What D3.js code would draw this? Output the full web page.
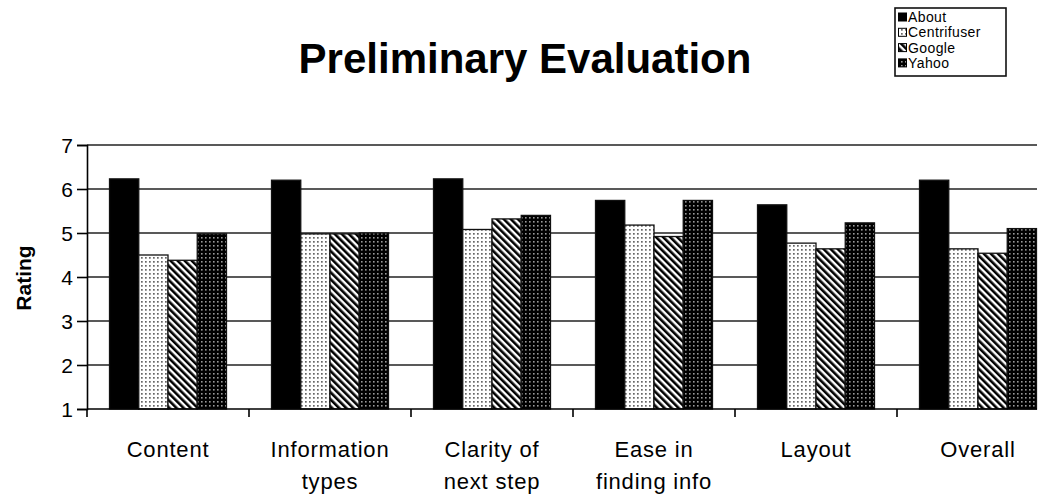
<!DOCTYPE html>
<html><head><meta charset="utf-8">
<script src="https://cdn.jsdelivr.net/npm/d3@7"></script>
<style>
html,body{margin:0;padding:0;background:#fff;}
svg{display:block;font-family:"Liberation Sans",Arial,sans-serif;}
</style></head>
<body><svg id="c" width="1050" height="497"></svg>
<script>
const categories = ["Content","Information types","Clarity of next step","Ease in finding info","Layout","Overall"];
const categoryLines = [["Content"],["Information","types"],["Clarity of","next step"],["Ease in","finding info"],["Layout"],["Overall"]];
const seriesNames = ["About","Centrifuser","Google","Yahoo"];
const about       = [6.23, 6.20, 6.23, 5.74, 5.64, 6.20];
const centrifuser = [4.50, 4.98, 5.08, 5.18, 4.77, 4.64];
const google      = [4.38, 4.98, 5.32, 4.92, 4.64, 4.54];
const yahoo       = [4.98, 5.00, 5.40, 5.74, 5.23, 5.10];
const yTicks = [1,2,3,4,5,6,7];
const seriesValues = [about, centrifuser, google, yahoo];

const svg = d3.select("#c");
const defs = svg.append("defs");
let p = defs.append("pattern").attr("id","pC").attr("patternUnits","userSpaceOnUse").attr("width",4).attr("height",4);
p.append("rect").attr("width",4).attr("height",4).attr("fill","#fff");
p.append("rect").attr("x",1).attr("y",1).attr("width",1.7).attr("height",1.7).attr("fill","#666");
p = defs.append("pattern").attr("id","pG").attr("patternUnits","userSpaceOnUse").attr("width",5).attr("height",5).attr("patternTransform","rotate(-45)");
p.append("rect").attr("width",5).attr("height",5).attr("fill","#fff");
p.append("rect").attr("width",2.6).attr("height",5).attr("fill","#000");
p = defs.append("pattern").attr("id","pY").attr("patternUnits","userSpaceOnUse").attr("width",4).attr("height",4);
p.append("rect").attr("width",4).attr("height",4).attr("fill","#000");
p.append("rect").attr("x",1).attr("y",1).attr("width",1.6).attr("height",1.6).attr("fill","#999");
const fills = ["#000","url(#pC)","url(#pG)","url(#pY)"];

const mLeft = 87, mTop = 145, mBottom = 409, mRight = 1059, lineEnd = 1037;
const y = d3.scaleLinear().domain([1,7]).range([mBottom, mTop]);
const x0 = d3.scaleBand().domain(categories).range([mLeft, mRight]).paddingInner(0.278).paddingOuter(0.139);
const x1 = d3.scaleBand().domain(seriesNames).range([0, x0.bandwidth()]).padding(0);

svg.append("g").selectAll("line").data(yTicks.slice(1)).join("line")
  .attr("x1", mLeft).attr("x2", lineEnd).attr("y1", d=>y(d)).attr("y2", d=>y(d))
  .attr("stroke","#222").attr("stroke-width",1.6);

const g = svg.append("g");
categories.forEach((cat, ci) => {
  seriesNames.forEach((s, si) => {
    const v = seriesValues[si][ci];
    g.append("rect")
      .attr("x", x0(cat) + x1(s)).attr("y", y(v))
      .attr("width", x1.bandwidth()).attr("height", y(1) - y(v))
      .attr("fill", fills[si]).attr("stroke","#111").attr("stroke-width",1.3);
  });
});

const ya = svg.append("g").attr("transform",`translate(${mLeft},0)`)
  .call(d3.axisLeft(y).tickValues(yTicks).tickSize(10).tickPadding(4).tickFormat(d3.format("d")));
ya.select(".domain").attr("stroke","#000").attr("stroke-width",1.6);
ya.selectAll(".tick line").attr("stroke","#000").attr("stroke-width",1.6);
ya.selectAll(".tick text").attr("font-size",21).attr("fill","#000").attr("font-family","Liberation Sans, Arial, sans-serif").attr("dy","0.36em");

svg.append("line").attr("x1",mLeft).attr("x2",lineEnd).attr("y1",mBottom).attr("y2",mBottom).attr("stroke","#000").attr("stroke-width",1.6);
const step = x0.step();
const boundaries = d3.range(categories.length + 1).map(i => mLeft + i*step).filter(d => d <= lineEnd);
svg.append("g").selectAll("line").data(boundaries).join("line")
  .attr("x1",d=>d).attr("x2",d=>d).attr("y1",mBottom).attr("y2",mBottom+8).attr("stroke","#000").attr("stroke-width",1.6);

categories.forEach((cat, ci) => {
  const cx = x0(cat) + x0.bandwidth()/2;
  categoryLines[ci].forEach((ln, li) => {
    svg.append("text").attr("x",cx).attr("y",457 + li*32).attr("text-anchor","middle")
      .attr("font-size",22).attr("letter-spacing","0.8px").text(ln);
  });
});

svg.append("text").attr("transform","translate(31,278) rotate(-90)").attr("text-anchor","middle")
  .attr("font-size",21).attr("font-weight","bold").text("Rating");

svg.append("text").attr("x",525).attr("y",73).attr("text-anchor","middle")
  .attr("font-size",42).attr("font-weight","bold").text("Preliminary Evaluation");

const lg = svg.append("g");
lg.append("rect").attr("x",895).attr("y",8).attr("width",111).attr("height",68)
  .attr("fill","#fff").attr("stroke","#111").attr("stroke-width",1.6);
seriesNames.forEach((s, si) => {
  const ry = 17 + si*15.3;
  lg.append("rect").attr("x",898.5).attr("y",ry-4).attr("width",8).attr("height",8)
    .attr("fill",fills[si]).attr("stroke","#000").attr("stroke-width",1);
  lg.append("text").attr("x",908).attr("y",ry+5).attr("font-size",14).attr("letter-spacing","0.4px").text(s);
});
</script></body></html>
